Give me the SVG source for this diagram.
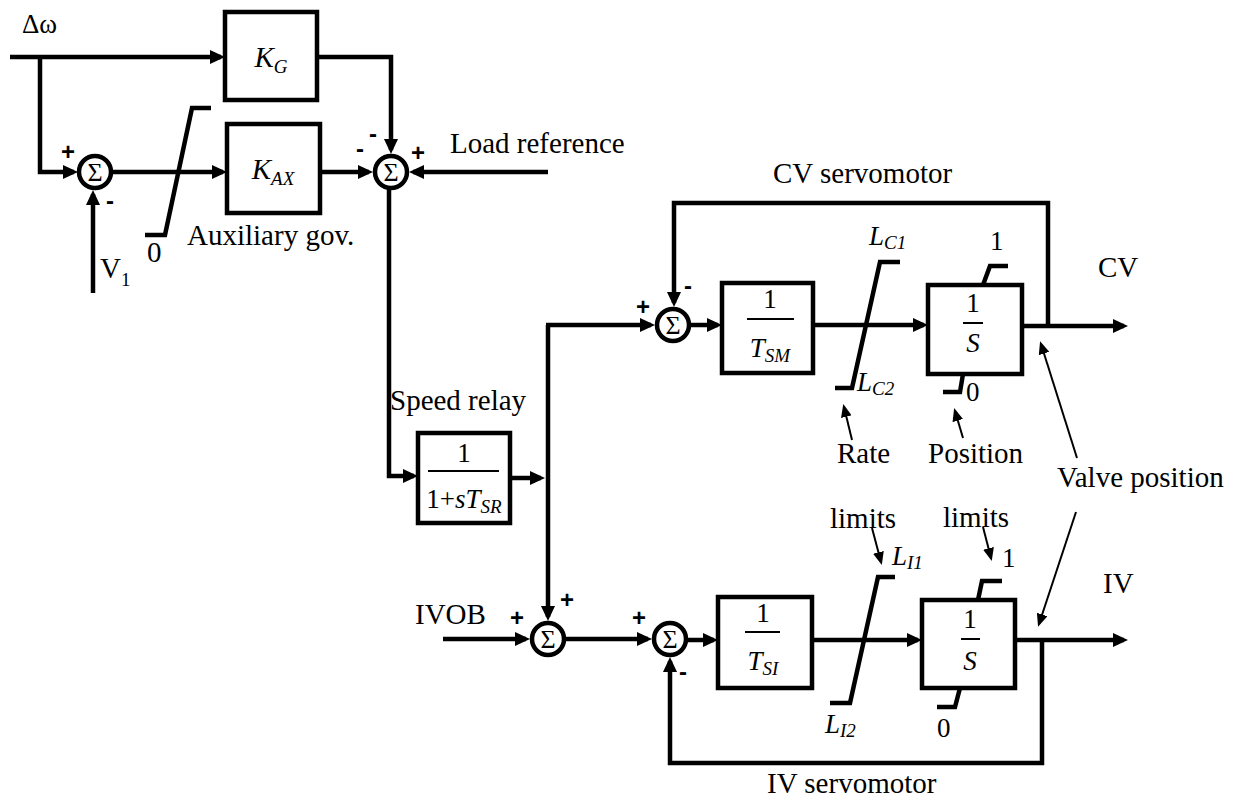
<svg xmlns="http://www.w3.org/2000/svg" width="1243" height="798" viewBox="0 0 1243 798">
<style>
text{font-family:"Liberation Serif","Times New Roman",serif;fill:#000}
.lb{font-size:29px}
.fr{font-size:27px}
.it{font-style:italic}
.sub{font-size:19px;font-style:italic}
.sg{font-family:"Liberation Sans",Arial,sans-serif;font-weight:bold;font-size:24px;text-anchor:middle}
.box{fill:#fff;stroke:#000;stroke-width:4.5}
.sum{fill:#fff;stroke:#000;stroke-width:4.5}
.w{fill:none;stroke:#000;stroke-width:4.5}
.th{fill:none;stroke:#000;stroke-width:2}
.lim{fill:none;stroke:#000;stroke-width:4.5}
.fl{stroke:#000;stroke-width:2}
.sig{font-size:26px;text-anchor:middle}
</style>
<defs>
<marker id="ah" markerUnits="userSpaceOnUse" markerWidth="16" markerHeight="14" refX="11" refY="7" orient="auto"><path d="M0,0 L15,7 L0,14 z" fill="#000"/></marker>
<marker id="as" markerUnits="userSpaceOnUse" markerWidth="13" markerHeight="11" refX="10" refY="5.5" orient="auto"><path d="M0,0 L13,5.5 L0,11 z" fill="#000"/></marker>
</defs>
<rect width="1243" height="798" fill="#fff"/>

<g id="connectors">
<path class="w" d="M10,57 H221" marker-end="url(#ah)"/>
<path class="w" d="M40,57 V172 H74" marker-end="url(#ah)"/>
<path class="w" d="M317,57 H391 V150" marker-end="url(#ah)"/>
<path class="w" d="M112,172 H223" marker-end="url(#ah)"/>
<path class="w" d="M320,172 H369" marker-end="url(#ah)"/>
<path class="w" d="M93,293 V194" marker-end="url(#ah)"/>
<path class="w" d="M548,172 H413" marker-end="url(#ah)"/>
<path class="w" d="M389,190 V476 H414" marker-end="url(#ah)"/>
<path class="w" d="M510,478 H541" marker-end="url(#ah)"/>
<path class="w" d="M548,325 V617" marker-end="url(#ah)"/>
<path class="w" d="M546,325 H651" marker-end="url(#ah)"/>
<path class="w" d="M691,325 H718" marker-end="url(#ah)"/>
<path class="w" d="M1048,326 V203 H674 V303" marker-end="url(#ah)"/>
<path class="w" d="M813,325 H924" marker-end="url(#ah)"/>
<path class="w" d="M1022,326 H1124" marker-end="url(#ah)"/>
<path class="w" d="M443,639 H526" marker-end="url(#ah)"/>
<path class="w" d="M566,639 H648" marker-end="url(#ah)"/>
<path class="w" d="M688,640 H714" marker-end="url(#ah)"/>
<path class="w" d="M812,640 H918" marker-end="url(#ah)"/>
<path class="w" d="M1015,640 H1124" marker-end="url(#ah)"/>
<path class="w" d="M1042,640 V763 H670 V661" marker-end="url(#ah)"/>
<path class="th" d="M852,440 L844,407" marker-end="url(#as)"/>
<path class="th" d="M963,438 L955,411" marker-end="url(#as)"/>
<path class="th" d="M1077,458 L1041,344" marker-end="url(#as)"/>
<path class="th" d="M1076,512 L1039,624" marker-end="url(#as)"/>
<path class="th" d="M872,528 L881,562" marker-end="url(#as)"/>
<path class="th" d="M983,527 L991,558" marker-end="url(#as)"/>
</g>

<g id="input-dw"><text class="lb" x="22" y="33" style="font-size:27px">Δω</text></g>

<g id="KG">
<rect class="box" x="225" y="12" width="92" height="88"/>
<text class="lb it" x="271" y="67" text-anchor="middle">K<tspan class="sub" dy="6">G</tspan></text>
</g>

<g id="sum1">
<circle class="sum" cx="95" cy="172" r="16"/>
<text class="sig" x="95" y="181">Σ</text>
<text class="sg" x="68" y="160">+</text>
<text class="sg" x="110" y="209">-</text>
</g>

<g id="V1"><text class="lb" x="100" y="278">V<tspan style="font-size:19px" dy="8">1</tspan></text></g>

<g id="aux-limiter">
<polyline class="lim" points="145,235 165,235 192,108 211,108"/>
<text class="lb" x="147" y="262">0</text>
<text class="lb" x="187" y="245">Auxiliary gov.</text>
</g>

<g id="KAX">
<rect class="box" x="227" y="124" width="93" height="89"/>
<text class="lb it" x="273" y="179" text-anchor="middle">K<tspan class="sub" dy="6">AX</tspan></text>
</g>

<g id="sum2">
<circle class="sum" cx="391" cy="172" r="16"/>
<text class="sig" x="391" y="181">Σ</text>
<text class="sg" x="373" y="142">-</text>
<text class="sg" x="360" y="157">-</text>
<text class="sg" x="418" y="161">+</text>
</g>

<g id="load-ref"><text class="lb" x="450" y="153">Load reference</text></g>

<g id="speed-relay">
<text class="lb" x="390" y="410">Speed relay</text>
<rect class="box" x="418" y="433" width="92" height="90"/>
<text class="fr" x="464" y="462" text-anchor="middle">1</text>
<line class="fl" x1="428" y1="471" x2="499" y2="471"/>
<text class="fr" x="464" y="508" text-anchor="middle">1+<tspan class="it">sT</tspan><tspan class="sub" dy="5">SR</tspan></text>
</g>

<g id="sumCV">
<circle class="sum" cx="673" cy="325" r="16"/>
<text class="sig" x="673" y="334">Σ</text>
<text class="sg" x="643" y="315">+</text>
<text class="sg" x="688" y="294">-</text>
</g>

<g id="TSM">
<rect class="box" x="722" y="283" width="91" height="90"/>
<text class="fr" x="770" y="308" text-anchor="middle">1</text>
<line class="fl" x1="747" y1="319" x2="794" y2="319"/>
<text class="fr it" x="770" y="357" text-anchor="middle">T<tspan class="sub" dy="5">SM</tspan></text>
</g>

<g id="CV-rate-limiter">
<polyline class="lim" points="835,388 852,388 880,262 900,262"/>
<text class="fr it" x="869" y="245">L<tspan class="sub" dy="4">C1</tspan></text>
<text class="fr it" x="857" y="391">L<tspan class="sub" dy="4">C2</tspan></text>
</g>

<g id="CV-integrator">
<rect class="box" x="928" y="285" width="94" height="89"/>
<text class="fr" x="973" y="312" text-anchor="middle">1</text>
<line class="fl" x1="963" y1="323" x2="983" y2="323"/>
<text class="fr it" x="973" y="352" text-anchor="middle">S</text>
<polyline class="lim" points="983,285 990,266 1008,266"/>
<polyline class="lim" points="963,374 960,392 943,392"/>
<text class="fr" x="990" y="250">1</text>
<text class="fr" x="966" y="401">0</text>
</g>

<g id="CV-labels">
<text class="lb" x="773" y="183">CV servomotor</text>
<text class="lb" x="1098" y="277">CV</text>
<text class="lb" x="837" y="463">Rate</text>
<text class="lb" x="928" y="463">Position</text>
<text class="lb" x="1057" y="487">Valve position</text>
</g>

<g id="IVOB"><text class="lb" x="415" y="624">IVOB</text></g>

<g id="sum3">
<circle class="sum" cx="548" cy="639" r="16"/>
<text class="sig" x="548" y="648">Σ</text>
<text class="sg" x="517" y="626">+</text>
<text class="sg" x="567" y="608">+</text>
</g>

<g id="sum4">
<circle class="sum" cx="670" cy="639" r="16"/>
<text class="sig" x="670" y="648">Σ</text>
<text class="sg" x="639" y="626">+</text>
<text class="sg" x="683" y="680">-</text>
</g>

<g id="TSI">
<rect class="box" x="718" y="597" width="94" height="91"/>
<text class="fr" x="763" y="622" text-anchor="middle">1</text>
<line class="fl" x1="745" y1="632" x2="780" y2="632"/>
<text class="fr it" x="763" y="670" text-anchor="middle">T<tspan class="sub" dy="5">SI</tspan></text>
</g>

<g id="IV-rate-limiter">
<polyline class="lim" points="830,703 850,703 878,577 895,577"/>
<text class="fr it" x="892" y="565">L<tspan class="sub" dy="4">I1</tspan></text>
<text class="fr it" x="825" y="733">L<tspan class="sub" dy="4">I2</tspan></text>
<text class="lb" x="830" y="528">limits</text>
</g>

<g id="IV-integrator">
<rect class="box" x="922" y="600" width="93" height="88"/>
<text class="fr" x="970" y="628" text-anchor="middle">1</text>
<line class="fl" x1="961" y1="639" x2="980" y2="639"/>
<text class="fr it" x="970" y="670" text-anchor="middle">S</text>
<polyline class="lim" points="978,600 982,581 1002,581"/>
<polyline class="lim" points="960,688 955,707 937,707"/>
<text class="fr" x="1002" y="567">1</text>
<text class="fr" x="937" y="737">0</text>
<text class="lb" x="943" y="527">limits</text>
</g>

<g id="IV-labels">
<text class="lb" x="1103" y="593">IV</text>
<text class="lb" x="767" y="793">IV servomotor</text>
</g>
</svg>
